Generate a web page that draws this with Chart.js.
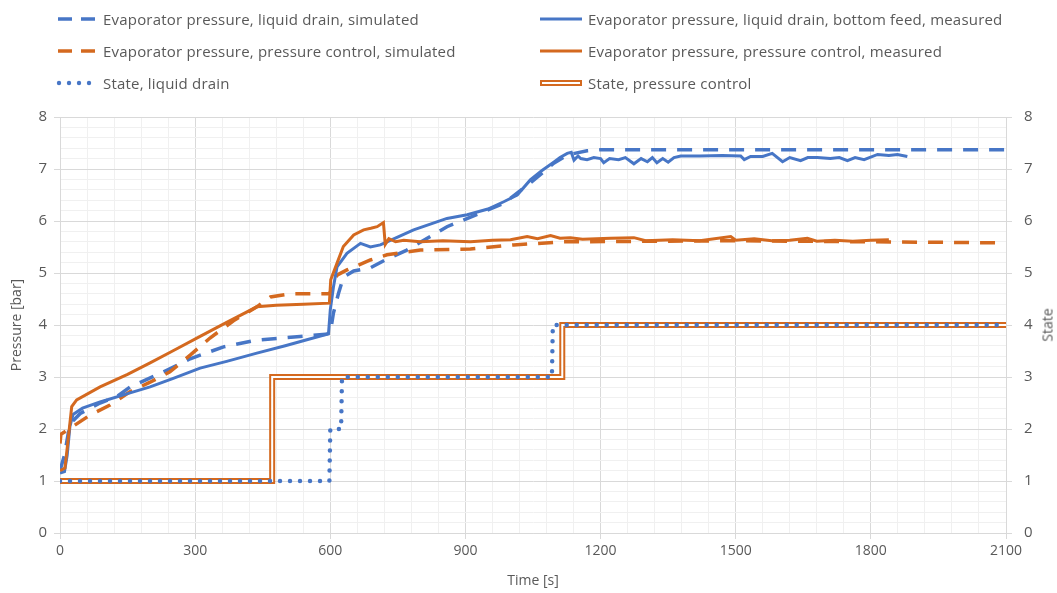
<!DOCTYPE html>
<html lang="en">
<head>
<meta charset="UTF-8">
<title>Evaporator pressure and state</title>
<script src="https://cdn.jsdelivr.net/npm/chart.js"></script>
<style>
  * { margin: 0; padding: 0; box-sizing: border-box; }
  body { width: 1057px; height: 593px; background: #fff; overflow: hidden; font-family: "Open Sans", sans-serif; }
  #wrap { position: relative; width: 1057px; height: 593px; }
  #legend .item { position: absolute; display: flex; align-items: center; font-size: 15px; letter-spacing: 0.2px; color: #595959; white-space: nowrap; transform: translateY(-50%); }
  #legend canvas { margin-right: 6px; }
  #stateTitle { position: absolute; left: 1047px; top: 325px; font-size: 14px; color: #595959; transform: translate(-50%, -50%) rotate(-90deg); }
</style>
</head>
<body>
<div id="wrap">
  <canvas id="chart" width="1057" height="593"></canvas>
  <div id="legend"></div>
  <div id="stateTitle">State</div>
</div>
<script>
  // Evaporator pressure, liquid drain, simulated
  const blueSimT = [0, 10, 22, 45, 89, 126, 156, 230, 289, 363, 437, 533, 590, 600, 607, 618, 629, 652, 689, 726, 770, 859, 933, 985, 1044, 1096, 1126, 1170, 1200, 2100];
  const blueSimP = [1.2, 1.5, 2.1, 2.3, 2.5, 2.62, 2.81, 3.1, 3.35, 3.58, 3.71, 3.78, 3.82, 3.85, 4.23, 4.6, 4.92, 5.04, 5.1, 5.27, 5.44, 5.89, 6.15, 6.34, 6.73, 7.11, 7.27, 7.35, 7.37, 7.37];

  // Evaporator pressure, liquid drain, bottom feed, measured
  const blueMeasT = [0, 10, 16, 22, 29, 50, 89, 150, 200, 250, 311, 370, 437, 500, 550, 596, 600, 607, 615, 637, 667, 689, 711, 726, 785, 859, 904, 950, 985, 1015, 1044, 1070, 1096, 1110, 1126, 1135, 1141, 1150, 1156, 1170, 1185, 1200, 1207, 1220, 1240, 1255, 1274, 1290, 1304, 1315, 1325, 1338, 1350, 1363, 1378, 1420, 1470, 1511, 1519, 1533, 1560, 1581, 1604, 1620, 1644, 1660, 1681, 1710, 1730, 1748, 1765, 1785, 1815, 1840, 1859, 1881];
  const blueMeasP = [1.15, 1.18, 1.5, 2.05, 2.28, 2.4, 2.52, 2.68, 2.81, 2.97, 3.17, 3.3, 3.46, 3.6, 3.72, 3.83, 4.29, 4.73, 5.12, 5.38, 5.57, 5.5, 5.54, 5.6, 5.83, 6.05, 6.12, 6.23, 6.37, 6.5, 6.79, 6.97, 7.13, 7.22, 7.3, 7.32, 7.17, 7.25, 7.2, 7.18, 7.22, 7.2, 7.12, 7.2, 7.18, 7.22, 7.1, 7.2, 7.14, 7.22, 7.12, 7.2, 7.13, 7.22, 7.25, 7.25, 7.26, 7.25, 7.18, 7.24, 7.24, 7.3, 7.14, 7.22, 7.16, 7.22, 7.22, 7.2, 7.22, 7.16, 7.22, 7.18, 7.28, 7.26, 7.28, 7.24];

  // Evaporator pressure, pressure control, simulated
  const orangeSimT = [0, 2, 20, 67, 111, 156, 200, 244, 289, 333, 385, 437, 467, 511, 598, 602, 615, 637, 689, 726, 800, 911, 1007, 1118, 1500, 1800, 2100];
  const orangeSimP = [1.72, 1.9, 2.0, 2.27, 2.46, 2.72, 2.9, 3.1, 3.42, 3.75, 4.08, 4.35, 4.54, 4.6, 4.6, 4.67, 4.96, 5.06, 5.25, 5.35, 5.44, 5.46, 5.54, 5.6, 5.62, 5.6, 5.58];

  // Evaporator pressure, pressure control, measured
  const orangeMeasT = [0, 11, 18, 26, 37, 89, 150, 200, 250, 311, 370, 437, 480, 540, 598, 601, 615, 629, 652, 674, 690, 704, 718, 722, 730, 745, 763, 800, 850, 911, 960, 1000, 1037, 1060, 1089, 1110, 1133, 1160, 1222, 1274, 1300, 1360, 1420, 1489, 1500, 1541, 1580, 1620, 1659, 1680, 1720, 1760, 1800, 1840];
  const orangeMeasP = [1.2, 1.25, 1.79, 2.43, 2.56, 2.81, 3.05, 3.27, 3.5, 3.78, 4.05, 4.35, 4.38, 4.4, 4.42, 4.87, 5.19, 5.51, 5.73, 5.83, 5.86, 5.89, 5.97, 5.55, 5.66, 5.6, 5.63, 5.6, 5.62, 5.6, 5.63, 5.64, 5.7, 5.66, 5.72, 5.67, 5.68, 5.65, 5.67, 5.68, 5.62, 5.64, 5.62, 5.7, 5.63, 5.66, 5.62, 5.63, 5.67, 5.61, 5.63, 5.61, 5.63, 5.64];

  // State, liquid drain
  const drainStateT = [0, 598, 600, 624, 626, 1092, 1094, 2100];
  const drainState = [1, 1, 2, 2, 3, 3, 4, 4];

  // State, pressure control
  const ctrlStateT = [0, 471, 471, 1115, 1115, 2100];
  const ctrlState = [1, 1, 3, 3, 4, 4];

  const BLUE = '#4776C6';
  const ORANGE = '#D4691F';
  const TEXT = '#595959';

  const pts = (ts, vs) => ts.map((t, i) => ({ x: t, y: vs[i] }));
  const isMajor = (v, step) => Math.abs(v / step - Math.round(v / step)) < 1e-6;

  const datasets = [
    { label: 'State, liquid drain', data: pts(drainStateT, drainState), yAxisID: 'y2',
      borderColor: BLUE, borderWidth: 4.5, borderDash: [0, 10], borderCapStyle: 'round', order: 0, kind: 'dot' },
    { label: '', data: pts(ctrlStateT, ctrlState), yAxisID: 'y2',
      borderColor: '#ffffff', borderWidth: 2, borderJoinStyle: 'miter', order: 1, kind: 'none' },
    { label: 'State, pressure control', data: pts(ctrlStateT, ctrlState), yAxisID: 'y2',
      borderColor: ORANGE, borderWidth: 6, borderJoinStyle: 'miter', order: 2, kind: 'double' },
    { label: 'Evaporator pressure, pressure control, measured', data: pts(orangeMeasT, orangeMeasP),
      borderColor: ORANGE, borderWidth: 3, order: 3, kind: 'solid' },
    { label: 'Evaporator pressure, liquid drain, bottom feed, measured', data: pts(blueMeasT, blueMeasP),
      borderColor: BLUE, borderWidth: 3, order: 4, kind: 'solid' },
    { label: 'Evaporator pressure, pressure control, simulated', data: pts(orangeSimT, orangeSimP),
      borderColor: ORANGE, borderWidth: 3.5, borderDash: [15, 11], order: 5, kind: 'dash' },
    { label: 'Evaporator pressure, liquid drain, simulated', data: pts(blueSimT, blueSimP),
      borderColor: BLUE, borderWidth: 3.5, borderDash: [15, 11], order: 6, kind: 'dash' }
  ];
  datasets.forEach(d => { d.pointRadius = 0; d.tension = 0; d.fill = false; });

  const tickFont = { family: 'Open Sans', size: 15 };

  new Chart(document.getElementById('chart'), {
    type: 'line',
    data: { datasets },
    options: {
      responsive: false,
      animation: false,
      layout: { padding: { top: 117, left: 0, right: 0, bottom: 0 } },
      plugins: { legend: { display: false }, tooltip: { enabled: false } },
      scales: {
        x: {
          type: 'linear', min: 0, max: 2100,
          ticks: { stepSize: 60, autoSkip: false, maxRotation: 0, padding: 4, color: TEXT,
                   font: { family: 'Open Sans', size: 14 },
                   callback: v => isMajor(v, 300) ? v : '' },
          grid: { color: c => isMajor(c.tick.value, 300) ? '#d9d9d9' : '#f0f0f0', tickLength: 6,
                  tickColor: c => isMajor(c.tick.value, 300) ? '#d9d9d9' : 'rgba(0,0,0,0)' },
          border: { color: '#d9d9d9' },
          title: { display: true, text: 'Time [s]', color: TEXT, font: { family: 'Open Sans', size: 14 }, padding: { top: 0, bottom: 4 } },
          afterFit: s => { s.height = 60; }
        },
        y: {
          position: 'left', min: 0, max: 8,
          ticks: { stepSize: 0.2, autoSkip: false, padding: 7, color: TEXT, font: tickFont,
                   callback: v => isMajor(v, 1) ? Math.round(v) : '' },
          grid: { color: c => isMajor(c.tick.value, 1) ? '#d9d9d9' : '#f0f0f0', tickLength: 6,
                  tickColor: c => isMajor(c.tick.value, 1) ? '#d9d9d9' : 'rgba(0,0,0,0)' },
          border: { color: '#d9d9d9' },
          title: { display: true, text: 'Pressure [bar]', color: TEXT, font: { family: 'Open Sans', size: 14 }, padding: { top: 9, bottom: 0 } },
          afterFit: s => { s.width = 60; }
        },
        y2: {
          position: 'right', min: 0, max: 8,
          ticks: { stepSize: 1, padding: 12, color: TEXT, font: tickFont },
          grid: { drawOnChartArea: false, tickLength: 6, tickColor: '#d9d9d9' },
          border: { color: '#d9d9d9' },
          afterFit: s => { s.width = 51; }
        }
      }
    }
  });

  // legend laid out as two columns of three rows
  const legendOrder = [6, 4, 5, 3, 0, 2];
  const colX = [55, 540];
  const rowY = [19, 51, 83];

  function drawSymbol(ds) {
    const c = document.createElement('canvas');
    c.width = 42; c.height = 10;
    const g = c.getContext('2d');
    g.strokeStyle = ds.borderColor;
    if (ds.kind === 'dash') {
      g.lineWidth = 3.5;
      g.beginPath(); g.moveTo(3, 5); g.lineTo(17, 5); g.moveTo(26, 5); g.lineTo(40, 5); g.stroke();
    } else if (ds.kind === 'solid') {
      g.lineWidth = 3;
      g.beginPath(); g.moveTo(0, 5); g.lineTo(42, 5); g.stroke();
    } else if (ds.kind === 'dot') {
      g.fillStyle = ds.borderColor;
      [4, 14, 24, 34].forEach(x => { g.beginPath(); g.arc(x, 5, 2.2, 0, Math.PI * 2); g.fill(); });
    } else if (ds.kind === 'double') {
      g.lineWidth = 6;
      g.beginPath(); g.moveTo(0, 5); g.lineTo(42, 5); g.stroke();
      g.strokeStyle = '#ffffff'; g.lineWidth = 2;
      g.beginPath(); g.moveTo(2, 5); g.lineTo(40, 5); g.stroke();
    }
    return c;
  }

  const legend = document.getElementById('legend');
  legendOrder.forEach((idx, i) => {
    const ds = datasets[idx];
    const item = document.createElement('div');
    item.className = 'item';
    item.style.left = colX[i % 2] + 'px';
    item.style.top = rowY[Math.floor(i / 2)] + 'px';
    item.appendChild(drawSymbol(ds));
    const span = document.createElement('span');
    span.textContent = ds.label;
    item.appendChild(span);
    legend.appendChild(item);
  });
</script>
</body>
</html>
